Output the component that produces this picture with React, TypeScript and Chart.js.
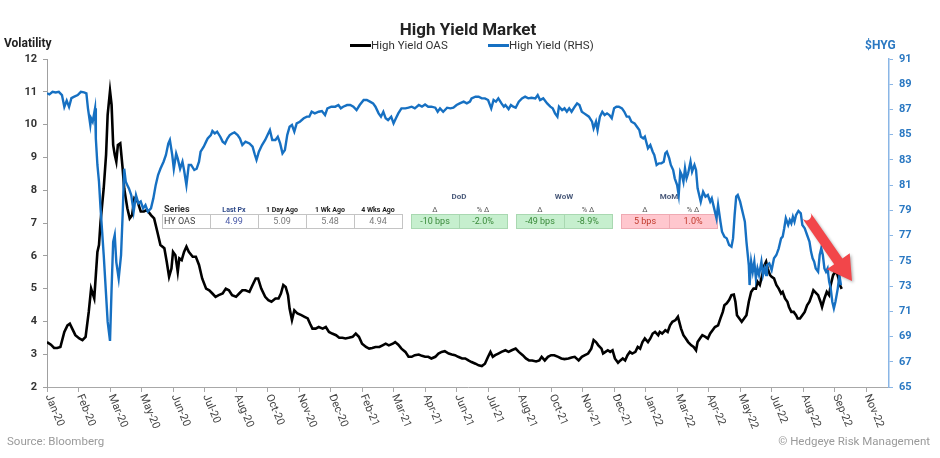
import React, { useEffect, useRef } from 'react';
import { Chart, registerables } from 'chart.js';

Chart.register(...registerables);

const FONT = 'Roboto, "DejaVu Sans", sans-serif';

// x-axis tick dates (Excel date axis, 40-day major unit) and their labels
const tickDates = [
  '2020-01-02', '2020-02-11', '2020-03-22', '2020-05-01', '2020-06-10', '2020-07-20', '2020-08-29',
  '2020-10-08', '2020-11-17', '2020-12-27', '2021-02-05', '2021-03-17', '2021-04-26', '2021-06-05',
  '2021-07-15', '2021-08-24', '2021-10-03', '2021-11-12', '2021-12-22', '2022-01-31', '2022-03-12',
  '2022-04-21', '2022-05-31', '2022-07-10', '2022-08-19', '2022-09-28', '2022-11-07',
];
const tickLabels = [
  'Jan-20', 'Feb-20', 'Mar-20', 'May-20', 'Jun-20', 'Jul-20', 'Aug-20', 'Oct-20', 'Nov-20', 'Dec-20',
  'Feb-21', 'Mar-21', 'Apr-21', 'Jun-21', 'Jul-21', 'Aug-21', 'Oct-21', 'Nov-21', 'Dec-21', 'Jan-22',
  'Mar-22', 'Apr-22', 'May-22', 'Jul-22', 'Aug-22', 'Sep-22', 'Nov-22',
];
const axisStartDate = '2020-01-02';
const axisEndDate = '2022-12-06';

// High Yield OAS (left axis) — positions in days since 2 Jan 2020
const oasDays = [
  0, 5, 9, 13, 17, 22, 26, 29, 32, 36,
  41, 45, 49, 53, 56, 60, 62, 64, 66, 68,
  72, 75, 77, 80, 82, 84, 86, 88, 90, 93,
  94, 96, 98, 100, 102, 105, 108, 111, 115, 119,
  123, 127, 132, 136, 140, 144, 149, 152, 155, 158,
  160, 163, 166, 168, 171, 174, 177, 180, 185, 189,
  193, 197, 202, 206, 210, 214, 218, 223, 227, 231,
  235, 240, 244, 248, 252, 257, 261, 265,
  268, 272, 277, 281, 285, 290, 294, 297, 300, 303,
  306, 308, 311, 314, 318, 323, 327, 331, 334, 337,
  341, 345, 350, 354, 358, 362, 367, 371, 375, 379,
  383, 388, 392, 396, 400, 405, 409, 413, 417, 422,
  426, 430, 434, 439, 442, 446, 450, 455, 459, 463,
  467, 472, 476, 480, 484, 488, 493, 497, 501, 505,
  510, 514, 518, 522, 527,
  531, 535, 539, 544, 548, 552, 556, 560, 563, 566,
  569, 573, 577, 582, 586, 590, 595, 599, 604, 608,
  612, 616, 621, 625, 628, 632, 636, 640, 644, 649,
  653, 657, 662, 666, 670, 675, 679, 683, 687, 691,
  694, 697, 700, 704, 706, 709, 712, 715, 718, 721,
  725, 728, 731, 734, 737, 740, 743, 747, 750, 753,
  756, 759, 763, 766, 769, 772, 776, 778, 781, 785,
  788, 791, 794, 798, 801,
  805, 808, 811, 814, 818, 821, 824, 826, 829, 832,
  836, 839, 842, 845, 848, 852, 855, 858, 860, 863,
  866, 869, 872, 874, 876, 879, 882, 885, 888, 891,
  894, 897, 900, 902, 905, 908, 911, 913, 915, 918,
  920, 923, 926, 929, 932, 934, 937, 940, 942, 945,
  948, 951, 953, 956, 959, 962, 965, 968, 971, 973,
  975, 979, 982, 984, 987, 990, 993, 995, 998, 1001,
  1003, 1005, 1007, 1009,
];
const oasValues = [
  3.37, 3.29, 3.19, 3.19, 3.22, 3.68, 3.88, 3.93, 3.78, 3.58,
  3.48, 3.43, 3.53, 4.29, 5.0, 4.7, 5.41, 6.12, 6.33, 7.04,
  8.06, 9.08, 10.3, 11.03, 10.6, 9.38, 9.08, 8.87, 9.38, 9.43,
  9.18, 8.67, 8.06, 7.75, 7.45, 7.14, 7.24, 7.75, 7.65, 7.35,
  7.35, 7.40, 7.24, 7.14, 6.74, 6.33, 6.23, 5.82, 5.36, 5.61,
  6.12, 6.02, 5.51, 5.92, 5.87, 6.12, 6.28, 6.12, 5.97, 5.97,
  5.72, 5.31, 5.0, 4.95, 4.85, 4.75, 4.80, 4.85, 5.0, 4.95,
  4.80, 4.75, 4.85, 4.95, 4.95, 4.90, 5.11, 5.31,
  5.31, 5.0, 4.75, 4.65, 4.6, 4.70, 4.70, 4.85, 5.11, 5.05,
  4.80, 4.39, 4.04, 4.34, 4.24, 4.19, 4.14, 4.09, 3.93, 3.78,
  3.78, 3.83, 3.78, 3.83, 3.68, 3.63, 3.58, 3.50, 3.50, 3.48,
  3.50, 3.53, 3.63, 3.53, 3.32, 3.22, 3.17, 3.19, 3.22, 3.22,
  3.27, 3.32, 3.27, 3.32, 3.37, 3.29, 3.17, 3.07, 2.92, 2.92,
  2.97, 2.99, 2.95, 2.92, 2.92, 2.87, 2.92, 3.02, 3.07, 3.09,
  3.02, 2.99, 2.97, 2.92, 2.87,
  2.87, 2.81, 2.76, 2.71, 2.66, 2.64, 2.71, 2.92, 3.07, 2.92,
  2.97, 3.02, 3.07, 3.12, 3.07, 3.12, 3.17, 3.07, 2.97, 2.87,
  2.81, 2.81, 2.78, 2.81, 2.92, 2.81, 2.92, 2.97, 2.97, 2.92,
  2.87, 2.85, 2.87, 2.90, 2.92, 2.81, 2.92, 2.97, 3.02, 3.17,
  3.43, 3.37, 3.27, 3.17, 3.02, 3.07, 3.12, 3.07, 3.12, 2.87,
  2.74, 2.81, 2.87, 2.81, 2.97, 3.07, 3.02, 3.07, 3.22, 3.17,
  3.37, 3.48, 3.37, 3.48, 3.63, 3.68, 3.58, 3.68, 3.63, 3.73,
  3.68, 3.88, 3.99, 4.04, 4.14,
  3.78, 3.58, 3.48, 3.37, 3.27, 3.22, 3.12, 3.37, 3.48, 3.58,
  3.53, 3.48, 3.63, 3.73, 3.83, 3.88, 4.09, 4.29, 4.49, 4.55,
  4.65, 4.80, 4.82, 4.60, 4.19, 4.09, 3.99, 4.09, 4.19, 4.60,
  4.90, 5.0, 5.0, 5.21, 5.11, 5.41, 5.72, 5.82, 5.61, 5.41,
  5.36, 5.31, 5.11, 5.0, 4.85, 4.90, 4.70, 4.60, 4.44, 4.29,
  4.29, 4.19, 4.09, 4.09, 4.19, 4.29, 4.49, 4.60, 4.80, 4.95,
  4.90, 4.80, 4.60, 4.44, 4.70, 4.90, 4.80, 5.11, 5.41, 5.51,
  5.48, 5.30, 5.09, 4.99,
];

// High Yield $HYG (right axis)
const hygDays = [
  0, 3, 7, 11, 15, 19, 22, 25, 28, 31,
  34, 39, 43, 47, 50, 52, 55, 56, 58, 61,
  62, 64, 66, 68, 70, 72, 75, 77, 80, 82,
  84, 86, 88, 91, 94, 96, 98, 100, 102, 104,
  107, 110, 113, 116, 119, 122, 125, 128, 132, 135,
  138, 141, 144, 148, 151, 154, 156, 159, 161, 164,
  166, 169, 172, 174, 177, 180, 183, 187, 190, 193,
  195, 199, 202, 204, 208, 210, 213, 216, 220, 223,
  226, 229, 232, 235, 238, 242, 245, 248, 252, 257,
  261, 264, 266,
  269, 273, 277, 280, 283, 286, 290, 293, 296, 299,
  302, 305, 308, 311, 314, 317, 321, 326, 330, 333,
  336, 340, 345, 349, 353, 356, 361, 366, 370, 373,
  376, 381, 385, 389, 393, 397, 402, 406, 410, 414,
  417, 421, 424, 427, 430, 433, 437, 440, 443, 446,
  450, 455, 459, 463, 467, 472, 476, 480, 484, 488,
  493, 496, 499, 503, 508, 512, 516, 520, 524, 529,
  533, 537,
  539, 544, 548, 552, 556, 560, 564, 567, 570, 573,
  577, 580, 582, 586, 589, 592, 595, 599, 603, 607,
  611, 615, 620, 623, 626, 630, 635, 639, 642, 645,
  648, 650, 654, 657, 660, 663, 666, 670, 673, 676,
  679, 682, 685, 688, 692, 694, 697, 699, 702, 705,
  708, 711, 714, 717, 720, 723, 726, 730, 733, 736,
  739, 742, 746, 749, 752, 754, 757, 759, 763, 766,
  769, 771, 774, 777, 780, 783, 785, 787, 790, 792,
  795, 797, 800, 802,
  804, 806, 808, 810, 812, 814, 817, 819, 822, 824,
  826, 828, 830, 833, 836, 839, 842, 844, 847, 850,
  852, 855, 857, 860, 863, 866, 869, 871, 873, 875,
  877, 880, 882, 884, 886, 888, 891, 892, 894, 896,
  898, 900, 902, 904, 907, 909, 911, 913, 914, 917,
  920, 923, 926, 929, 932, 934, 936, 938, 941, 943,
  945, 947, 949, 951, 954, 957, 959, 962, 965, 968,
  970, 972, 974, 976, 979, 981, 983, 985, 987, 989,
  991, 993, 995, 997, 999, 1001, 1004, 1006, 1008,
];
const hygValues = [
  88.28, 88.2, 88.4, 88.35, 88.4, 88.14, 87.2, 87.7, 87.2, 87.9,
  88.0, 88.14, 88.4, 88.35, 88.28, 87.09, 85.77, 86.3, 86.03, 87.09,
  84.7, 82.6, 81.27, 79.16, 77.31, 75.46, 72.3, 70.18, 68.65, 72.8,
  76.5, 77.05, 74.9, 73.6, 75.46, 78.6, 82.3, 81.27, 81.0, 80.74,
  80.2, 78.9, 80.2, 79.56, 79.7, 79.16, 79.42, 78.9, 79.16, 79.95,
  81.0, 81.8, 82.3, 82.86, 83.39, 84.3, 84.58, 83.39, 82.3, 83.5,
  83.1, 82.3, 82.86, 82.2, 81.0, 82.6, 82.6, 82.2, 82.3, 82.86,
  83.65, 84.05, 84.45, 84.7, 84.97, 85.29, 85.1, 85.24, 84.84, 84.45,
  84.3, 84.7, 84.97, 85.1, 85.18, 84.97, 84.7, 84.18, 84.45, 84.3,
  84.05, 83.39, 83.0,
  83.65, 84.18, 84.58, 84.97, 85.37, 84.58, 84.58, 84.84, 84.31, 83.52,
  83.78, 84.97, 85.63, 85.77, 85.24, 85.9, 86.03, 86.3, 86.43, 86.43,
  86.82, 86.69, 86.82, 86.88, 86.56, 87.09, 87.22, 87.22, 87.35, 87.09,
  87.22, 87.35, 87.35, 87.22, 86.95, 87.35, 87.75, 87.75, 87.62, 87.48,
  87.22, 86.69, 86.43, 86.82, 86.3, 86.16, 86.43, 85.9, 86.3, 86.69,
  87.09, 87.09, 87.14, 87.22, 87.09, 87.35, 87.22, 87.4, 87.22, 87.22,
  87.14, 86.82, 87.09, 86.82, 87.14, 87.09, 87.14, 87.35, 87.48, 87.62,
  87.48, 87.62,
  87.88, 88.01, 88.01, 87.88, 87.88, 87.75, 87.09, 87.75, 87.62, 87.88,
  87.48, 87.22, 87.35, 87.03, 87.35, 87.22, 87.14, 87.62, 87.88, 88.01,
  87.88, 87.93, 87.88, 88.14, 87.75, 87.88, 87.48, 87.22, 87.09, 86.69,
  86.43, 87.22, 86.95, 87.09, 86.82, 87.09, 86.82, 87.22, 87.48, 87.35,
  86.82, 86.69, 86.56, 86.43, 86.03, 85.5, 86.03, 85.37, 86.43, 86.82,
  86.56, 86.69, 86.56, 86.3, 87.09, 87.22, 87.22, 87.09, 86.82, 86.43,
  86.43, 86.03, 85.9, 85.63, 85.37, 84.84, 84.71, 84.84, 83.92, 84.18,
  83.65, 83.39, 82.6, 82.73, 82.73, 82.86, 83.52, 83.65, 83.12, 82.6,
  82.2, 81.54, 81.0, 80.22,
  82.07, 81.8, 81.27, 82.33, 81.54, 81.94, 82.86, 82.07, 82.6, 82.2,
  80.75, 80.22, 79.69, 80.48, 80.09, 80.22, 79.69, 79.95, 79.16, 78.37,
  79.42, 78.1, 77.31, 76.92, 76.78, 76.25, 76.12, 76.78, 78.63, 80.09,
  80.22, 79.69, 79.16, 78.63, 78.1, 76.52, 74.67, 73.08, 74.93, 74.14,
  74.93, 73.61, 74.4, 73.88, 74.93, 73.88, 74.4, 73.88, 74.67, 74.8,
  74.27, 75.2, 75.46, 75.99, 76.78, 76.92, 77.58, 78.37, 77.84, 78.24,
  77.97, 78.5, 78.1, 78.63, 78.95, 78.76, 77.84, 77.58, 77.05, 76.52,
  75.73, 75.2, 74.93, 74.4, 74.14, 75.46, 75.99, 75.46, 74.4, 74.14,
  74.4, 73.35, 72.82, 71.76, 71.24, 71.76, 72.82, 73.88, 73.08,
];

// inset table
const tableHeaders = ['Series', 'Last Px', '1 Day Ago', '1 Wk Ago', '4 Wks Ago'];
const tableRow = ['HY OAS', '4.99', '5.09', '5.48', '4.94'];
const deltaGroups = ['DoD', 'WoW', 'MoM'];
const deltaSubHeaders = ['Δ', '% Δ'];
const deltaValues = [
  ['-10 bps', '-2.0%'],
  ['-49 bps', '-8.9%'],
  ['5 bps', '1.0%'],
];
const deltaPositive = [false, false, true];

// annotation arrow (day, $HYG value)
const arrowFrom = { day: 964, value: 78.6 };
const arrowTo = { day: 1022, value: 73.4 };

const dayOf = (s: string) => {
  const [y, m, d] = s.split('-').map(Number);
  const [y0, m0, d0] = axisStartDate.split('-').map(Number);
  return Math.round((Date.UTC(y, m - 1, d) - Date.UTC(y0, m0 - 1, d0)) / 86400000);
};
const tickDays = tickDates.map(dayOf);

function drawTable(ctx: CanvasRenderingContext2D) {
  ctx.save();
  ctx.textBaseline = 'middle';
  const rowTop = 214, rowH = 14;
  const cellW = 48, left = 162;
  // left header row
  tableHeaders.forEach((h, i) => {
    if (i === 0) {
      ctx.font = `bold 9px ${FONT}`;
      ctx.fillStyle = '#333';
      ctx.textAlign = 'left';
      ctx.fillText(h, left + 2, 210);
    } else {
      ctx.font = `bold 7px ${FONT}`;
      ctx.fillStyle = i === 1 ? '#2f4a8a' : '#222';
      ctx.textAlign = 'center';
      ctx.fillText(h, left + cellW * i + cellW / 2, 210);
    }
  });
  // data row
  ctx.fillStyle = '#ffffff';
  ctx.fillRect(left, rowTop, cellW * 5, rowH);
  ctx.strokeStyle = '#c4c4c4';
  ctx.lineWidth = 1;
  for (let i = 0; i < 5; i++) ctx.strokeRect(left + cellW * i + 0.5, rowTop + 0.5, cellW, rowH);
  tableRow.forEach((v, i) => {
    ctx.font = `9px ${FONT}`;
    if (i === 0) {
      ctx.fillStyle = '#444';
      ctx.textAlign = 'left';
      ctx.fillText(v, left + 2, rowTop + rowH / 2 + 0.5);
    } else {
      ctx.fillStyle = i === 1 ? '#4a5aa8' : '#7a7a7a';
      ctx.textAlign = 'center';
      ctx.fillText(v, left + cellW * i + cellW / 2, rowTop + rowH / 2 + 0.5);
    }
  });
  // delta groups
  const groupLefts = [411, 516, 621];
  deltaGroups.forEach((g, gi) => {
    const gl = groupLefts[gi];
    ctx.font = `bold 8px ${FONT}`;
    ctx.fillStyle = '#4b5b7b';
    ctx.textAlign = 'center';
    ctx.fillText(g, gl + cellW, 197);
    deltaSubHeaders.forEach((s, si) => {
      ctx.font = `7.5px ${FONT}`;
      ctx.fillStyle = '#555';
      ctx.fillText(s, gl + cellW * si + cellW / 2, 210);
    });
    const pos = deltaPositive[gi];
    deltaValues[gi].forEach((v, si) => {
      const x = gl + cellW * si;
      ctx.fillStyle = pos ? '#ffc7ce' : '#c6efce';
      ctx.fillRect(x, rowTop, cellW, rowH);
      ctx.strokeStyle = pos ? '#efaab3' : '#a9d8b1';
      ctx.strokeRect(x + 0.5, rowTop + 0.5, cellW, rowH);
      ctx.font = `9px ${FONT}`;
      ctx.fillStyle = pos ? '#c0392b' : '#3a8a3a';
      ctx.fillText(v, x + cellW / 2, rowTop + rowH / 2 + 0.5);
    });
  });
  ctx.restore();
}

const decorPlugin = {
  id: 'decor',
  beforeDatasetsDraw(chart: any) {
    drawTable(chart.ctx);
  },
  afterDraw(chart: any) {
    const ctx: CanvasRenderingContext2D = chart.ctx;
    const xs = chart.scales.x;
    const y2 = chart.scales.y2;
    ctx.save();
    // title
    ctx.font = `bold 17px ${FONT}`;
    ctx.fillStyle = '#222';
    ctx.textAlign = 'center';
    ctx.textBaseline = 'alphabetic';
    ctx.fillText('High Yield Market', 468, 35);
    // legend
    ctx.lineWidth = 3;
    ctx.strokeStyle = '#000';
    ctx.beginPath(); ctx.moveTo(350, 45.5); ctx.lineTo(371, 45.5); ctx.stroke();
    ctx.strokeStyle = '#1670c2';
    ctx.beginPath(); ctx.moveTo(488, 45.5); ctx.lineTo(509, 45.5); ctx.stroke();
    ctx.font = `11.5px ${FONT}`;
    ctx.fillStyle = '#333';
    ctx.textAlign = 'left';
    ctx.fillText('High Yield OAS', 371, 49);
    ctx.fillText('High Yield (RHS)', 509, 49);
    // axis titles
    ctx.font = `bold 12px ${FONT}`;
    ctx.fillStyle = '#222';
    ctx.fillText('Volatility', 4, 47);
    ctx.fillStyle = '#2a78c2';
    ctx.fillText('$HYG', 865, 49);
    // footer
    ctx.font = `11.5px ${FONT}`;
    ctx.fillStyle = '#9a9a9a';
    ctx.fillText('Source: Bloomberg', 7, 445);
    ctx.textAlign = 'right';
    ctx.fillText('© Hedgeye Risk Management', 930, 445);
    // rotated x labels
    ctx.font = `11px ${FONT}`;
    ctx.fillStyle = '#444';
    ctx.textAlign = 'left';
    ctx.textBaseline = 'middle';
    xs.ticks.forEach((t: any) => {
      const idx = tickDays.indexOf(t.value);
      if (idx < 0) return;
      const px = xs.getPixelForValue(t.value);
      ctx.save();
      ctx.translate(px + 1, xs.top + 8);
      ctx.rotate((67.5 * Math.PI) / 180);
      ctx.fillText(tickLabels[idx], 0, 0);
      ctx.restore();
    });
    // arrow
    const sx = xs.getPixelForValue(arrowFrom.day), sy = y2.getPixelForValue(arrowFrom.value);
    const tx = xs.getPixelForValue(arrowTo.day), ty = y2.getPixelForValue(arrowTo.value);
    const dx = tx - sx, dy = ty - sy;
    const len = Math.hypot(dx, dy);
    const ux = dx / len, uy = dy / len;
    const px = -uy, py = ux;
    const headL = 24, headW = 14, shaftW = 5;
    const bx = tx - ux * headL, by = ty - uy * headL;
    ctx.shadowColor = 'rgba(0,0,0,0.3)';
    ctx.shadowBlur = 3;
    ctx.shadowOffsetX = 1.5;
    ctx.shadowOffsetY = 1.5;
    ctx.fillStyle = '#f2464a';
    ctx.beginPath();
    ctx.moveTo(sx + px * shaftW, sy + py * shaftW);
    ctx.lineTo(bx + px * shaftW, by + py * shaftW);
    ctx.lineTo(bx + px * headW, by + py * headW);
    ctx.lineTo(tx, ty);
    ctx.lineTo(bx - px * headW, by - py * headW);
    ctx.lineTo(bx - px * shaftW, by - py * shaftW);
    ctx.lineTo(sx - px * shaftW, sy - py * shaftW);
    ctx.arc(sx, sy, shaftW, Math.atan2(-py, -px), Math.atan2(py, px), false);
    ctx.closePath();
    ctx.fill();
    ctx.restore();
  },
};

export default function App() {
  const ref = useRef<HTMLCanvasElement | null>(null);
  useEffect(() => {
    document.body.style.margin = '0';
    if (!ref.current) return;
    const oasPoints = oasDays.slice(0, Math.min(oasDays.length, oasValues.length)).map((d, i) => ({ x: d, y: oasValues[i] }));
    const hygPoints = hygDays.slice(0, Math.min(hygDays.length, hygValues.length)).map((d, i) => ({ x: d, y: hygValues[i] }));
    const chart = new Chart(ref.current, {
      type: 'line',
      data: {
        datasets: [
          {
            label: 'High Yield OAS',
            data: oasPoints,
            borderColor: '#000000',
            borderWidth: 2.6,
            pointRadius: 0,
            tension: 0,
            yAxisID: 'y',
            order: 2,
          },
          {
            label: 'High Yield (RHS)',
            data: hygPoints,
            borderColor: '#1670c2',
            borderWidth: 2.4,
            pointRadius: 0,
            tension: 0,
            yAxisID: 'y2',
            order: 1,
          },
        ],
      },
      options: {
        responsive: false,
        animation: false,
        layout: { padding: { top: 59, left: 0, right: 0, bottom: 0 } },
        plugins: {
          legend: { display: false },
          title: { display: false },
          tooltip: { enabled: false },
        },
        scales: {
          x: {
            type: 'linear',
            min: dayOf(axisStartDate),
            max: dayOf(axisEndDate),
            afterBuildTicks: (scale: any) => {
              scale.ticks = tickDays.map((v) => ({ value: v }));
            },
            afterFit: (scale: any) => {
              scale.height = 71;
            },
            ticks: {
              display: false,
              autoSkip: false,
              callback: (v: any) => {
                const i = tickDays.indexOf(v);
                return i >= 0 ? tickLabels[i] : '';
              },
            },
            grid: { drawOnChartArea: false, drawTicks: true, tickLength: 5, color: '#a8a8a8' },
            border: { display: true, color: '#a8a8a8', width: 1 },
          },
          y: {
            type: 'linear',
            position: 'left',
            min: 2,
            max: 12,
            afterFit: (scale: any) => {
              scale.width = 47;
            },
            ticks: {
              stepSize: 1,
              padding: 6,
              color: '#333',
              font: { family: FONT, size: 11, weight: 'bold' },
            },
            grid: { drawOnChartArea: false, drawTicks: true, tickLength: 4, color: '#a0a0a0' },
            border: { display: true, color: '#a0a0a0', width: 1 },
          },
          y2: {
            type: 'linear',
            position: 'right',
            min: 65,
            max: 91,
            afterFit: (scale: any) => {
              scale.width = 51;
            },
            ticks: {
              stepSize: 2,
              padding: 6,
              color: '#2a78c2',
              font: { family: FONT, size: 11, weight: 'bold' },
            },
            grid: { drawOnChartArea: false, drawTicks: true, tickLength: 4, color: '#8ab6e6' },
            border: { display: true, color: '#8ab6e6', width: 1.5 },
          },
        },
      } as any,
      plugins: [decorPlugin],
    });
    return () => chart.destroy();
  }, []);
  return (
    <div style={{ width: 940, height: 458, position: 'relative', background: '#fff' }}>
      <canvas ref={ref} width={940} height={458} style={{ width: 940, height: 458, display: 'block' }} />
    </div>
  );
}
